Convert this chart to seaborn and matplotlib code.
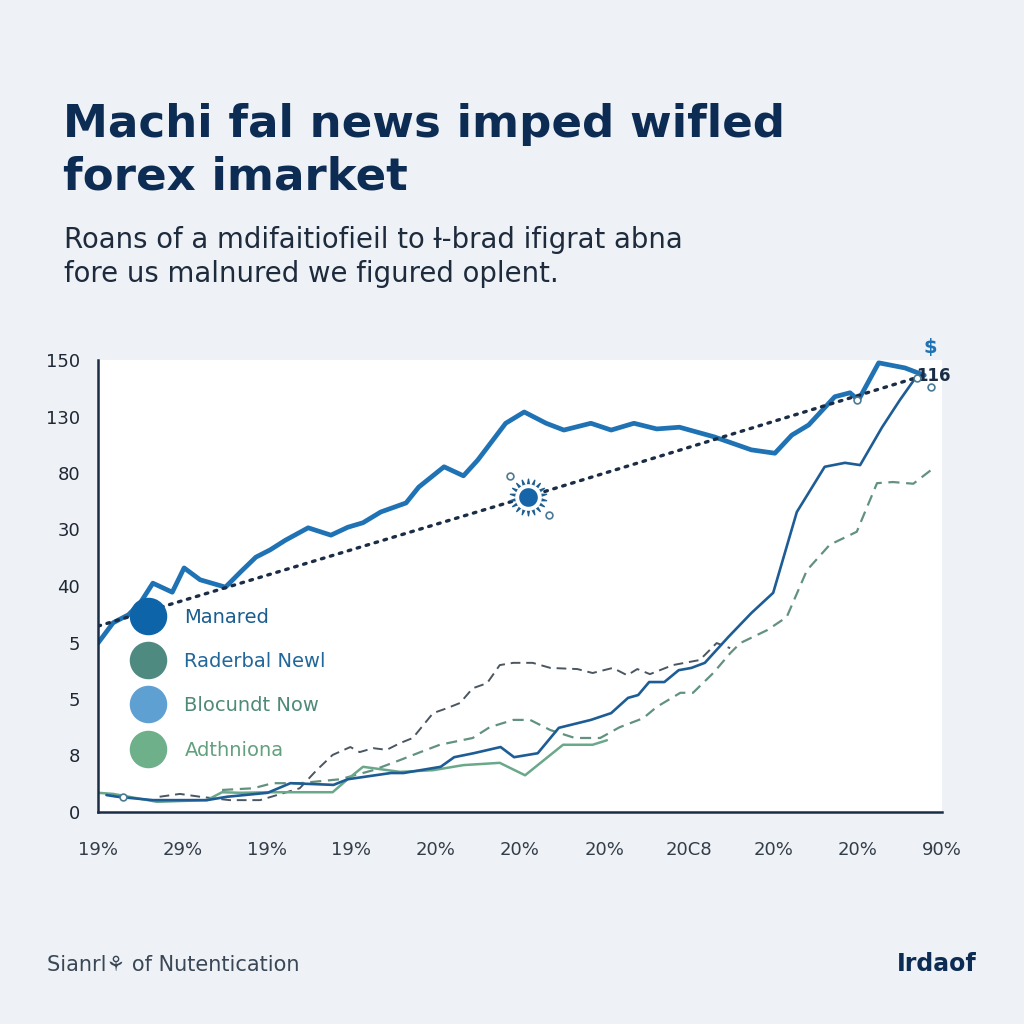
import matplotlib
matplotlib.use("Agg")
import matplotlib.pyplot as plt
from matplotlib.lines import Line2D
import pandas as pd
import seaborn as sns

# Data (x in tick units 0..10, y in tick-slot units 0..8)
x_tick_labels = ["19%", "29%", "19%", "19%", "20%", "20%", "20%", "20C8", "20%", "20%", "90%"]
y_tick_labels = ["0", "8", "5", "5", "40", "30", "80", "130", "150"]

manared_x = [0.00, 0.18, 0.36, 0.50, 0.65, 0.88, 1.02, 1.21, 1.51, 1.69, 1.87, 2.04, 2.22, 2.49,
             2.76, 2.96, 3.14, 3.35, 3.65, 3.80, 4.10, 4.33, 4.50, 4.83, 5.05, 5.31, 5.52, 5.84,
             6.08, 6.35, 6.62, 6.89, 7.30, 7.74, 8.02, 8.22, 8.42, 8.73, 8.91, 9.01, 9.25, 9.56, 9.79]
manared_y = [2.99, 3.35, 3.49, 3.70, 4.05, 3.89, 4.32, 4.11, 3.98, 4.25, 4.51, 4.64, 4.81, 5.03,
             4.90, 5.04, 5.12, 5.31, 5.47, 5.75, 6.11, 5.95, 6.23, 6.88, 7.08, 6.88, 6.76, 6.88,
             6.76, 6.88, 6.78, 6.81, 6.64, 6.41, 6.35, 6.67, 6.85, 7.35, 7.42, 7.29, 7.95, 7.86, 7.73]

raderbal_x = [0.10, 0.23, 0.65, 1.29, 1.53, 2.01, 2.28, 2.79, 2.96, 3.47, 3.62, 4.06, 4.22, 4.45,
              4.77, 4.93, 5.21, 5.46, 5.84, 6.08, 6.28, 6.40, 6.53, 6.71, 6.88, 7.03, 7.19, 7.47,
              7.74, 8.00, 8.28, 8.61, 8.85, 9.03, 9.29, 9.50, 9.67]
raderbal_y = [0.30, 0.27, 0.21, 0.21, 0.27, 0.34, 0.51, 0.48, 0.58, 0.69, 0.69, 0.80, 0.97, 1.04,
              1.15, 0.97, 1.04, 1.49, 1.63, 1.75, 2.02, 2.07, 2.30, 2.30, 2.51, 2.55, 2.64, 3.10,
              3.52, 3.88, 5.31, 6.11, 6.18, 6.14, 6.81, 7.29, 7.65]

adth_x = [0.00, 0.18, 0.70, 1.29, 1.47, 1.68, 2.07, 2.78, 2.95, 3.14, 3.58, 3.97, 4.33, 4.76,
          5.06, 5.51, 5.86, 6.03]
adth_y = [0.34, 0.32, 0.18, 0.21, 0.35, 0.34, 0.35, 0.35, 0.57, 0.80, 0.71, 0.74, 0.83, 0.87,
          0.65, 1.19, 1.19, 1.27]

blocundt_x = [1.47, 1.84, 2.07, 2.39, 2.87, 3.26, 3.58, 3.82, 4.05, 4.44, 4.64, 4.92, 5.12, 5.36,
              5.65, 5.95, 6.18, 6.46, 6.62, 6.90, 7.05, 7.29, 7.49, 7.61, 7.93, 8.16, 8.40, 8.67,
              8.99, 9.23, 9.42, 9.66, 9.92]
blocundt_y = [0.39, 0.42, 0.51, 0.51, 0.58, 0.74, 0.92, 1.06, 1.19, 1.31, 1.50, 1.63, 1.63, 1.45,
              1.31, 1.31, 1.50, 1.66, 1.86, 2.11, 2.11, 2.46, 2.81, 2.99, 3.22, 3.45, 4.28, 4.73,
              4.96, 5.82, 5.84, 5.81, 6.11]

gray_x = [0.73, 0.97, 1.21, 1.56, 1.92, 2.39, 2.59, 2.78, 2.99, 3.10, 3.26, 3.42, 3.58, 3.73,
          3.97, 4.14, 4.29, 4.44, 4.61, 4.76, 4.92, 5.15, 5.36, 5.68, 5.86, 6.10, 6.27, 6.39,
          6.54, 6.81, 7.13, 7.33, 7.49]
gray_y = [0.27, 0.32, 0.27, 0.21, 0.21, 0.42, 0.74, 1.01, 1.15, 1.06, 1.13, 1.10, 1.22, 1.31,
          1.75, 1.84, 1.93, 2.19, 2.28, 2.60, 2.64, 2.64, 2.55, 2.53, 2.46, 2.55, 2.42, 2.53,
          2.44, 2.60, 2.69, 2.99, 2.90]

trend_x = [0.00, 5.09, 9.79]
trend_y = [3.29, 5.58, 7.73]

sun_x, sun_y = [5.09], [5.58]
ring_x = [4.88, 5.34, 9.87, 8.99, 9.70, 0.30]
ring_y = [5.95, 5.26, 7.52, 7.29, 7.68, 0.27]

legend_labels = ["Manared", "Raderbal Newl", "Blocundt Now", "Adthniona"]
legend_colors = ["#0e64a8", "#4e8a80", "#5fa0d2", "#6db08a"]
legend_text_colors = ["#1b5e8e", "#22679a", "#4f8a78", "#63a07f"]

BG = "#eef2f6"
NAVY = "#0d2c54"

sns.set_theme(style="white")
plt.rcParams["font.family"] = ["DejaVu Sans"]

fig = plt.figure(figsize=(10.24, 10.24), dpi=100, facecolor=BG)
ax = fig.add_axes([98 / 1024, 1 - 812 / 1024, 844 / 1024, 452 / 1024])
ax.set_facecolor("white")


def line(xs, ys, **kw):
    df = pd.DataFrame({"x": xs, "y": ys})
    sns.lineplot(data=df, x="x", y="y", ax=ax, sort=False, estimator=None, legend=False, **kw)


line(gray_x, gray_y, color="#4a5661", lw=1.4, linestyle=(0, (5, 3)))
line(blocundt_x, blocundt_y, color="#62927f", lw=1.6, linestyle=(0, (5, 3)))
line(adth_x, adth_y, color="#6aa88a", lw=1.8)
line(raderbal_x, raderbal_y, color="#1d5c94", lw=1.9)
line(manared_x, manared_y, color="#1f72b3", lw=3.4)
line(trend_x, trend_y, color="#1b2d45", lw=2.4, linestyle=(0, (0.8, 2.0)), dash_capstyle="round")

ax.scatter(sun_x, sun_y, s=700, marker=(18, 1, 0), color="#1f5f8f", zorder=5)
ax.scatter(sun_x, sun_y, s=330, color="white", zorder=6)
ax.scatter(sun_x, sun_y, s=220, color="#1565a8", edgecolor="white", linewidth=1.4, zorder=7)
ax.scatter(ring_x, ring_y, s=24, facecolor="white", edgecolor="#4a7a94", linewidth=1.2, zorder=6)

ax.text(9.86, 8.23, "$", color="#1f72b3", fontsize=14, fontweight="bold",
        ha="center", va="center", clip_on=False)
ax.text(9.90, 7.72, "116", color="#1b2d45", fontsize=12, fontweight="bold",
        ha="center", va="center", clip_on=False)

ax.set_xlim(0, 10)
ax.set_ylim(0, 8)
ax.set_xticks(range(11))
ax.set_xticklabels(x_tick_labels)
ax.set_yticks(range(9))
ax.set_yticklabels(y_tick_labels)
ax.set_xlabel("")
ax.set_ylabel("")
for side in ["top", "right"]:
    ax.spines[side].set_visible(False)
for side in ["left", "bottom"]:
    ax.spines[side].set_color("#1b2d45")
    ax.spines[side].set_linewidth(1.8)
ax.tick_params(axis="both", which="both", direction="out", length=7, width=1.8,
               color="#1b2d45", labelsize=13)
ax.tick_params(axis="x", labelcolor="#333d48", pad=14)
ax.tick_params(axis="y", labelcolor="#1e2733", pad=6)

handles = [Line2D([], [], linestyle="", marker="o", markersize=26, color=c) for c in legend_colors]
leg = ax.legend(handles, legend_labels, loc="upper left", bbox_to_anchor=(129 / 1024, 1 - 598 / 1024),
                bbox_transform=fig.transFigure, frameon=False, fontsize=14, labelspacing=1.3,
                handlelength=1.0, handletextpad=1.35, borderpad=0)
for t, c in zip(leg.get_texts(), legend_text_colors):
    t.set_color(c)

fig.text(63 / 1024, 1 - 137 / 1024, "Machi fal news imped wifled", fontsize=32.5,
         fontweight="bold", color=NAVY, va="baseline")
fig.text(63 / 1024, 1 - 190 / 1024, "forex imarket", fontsize=32.5,
         fontweight="bold", color=NAVY, va="baseline")
fig.text(64 / 1024, 1 - 248 / 1024, "Roans of a mdifaitiofieil to Ɨ-brad ifigrat abna",
         fontsize=19.8, color="#1e2b3c", va="baseline")
fig.text(64 / 1024, 1 - 282 / 1024, "fore us malnured we figured oplent.",
         fontsize=19.8, color="#1e2b3c", va="baseline")
fig.text(47 / 1024, 1 - 971 / 1024, "Sianrl⚘ of Nutentication", fontsize=15,
         color="#3a4756", va="baseline")
fig.text(977 / 1024, 1 - 971 / 1024, "Irdaof", fontsize=17, fontweight="bold",
         color=NAVY, ha="right", va="baseline")

fig.savefig("out.png", dpi=100, facecolor=BG)
